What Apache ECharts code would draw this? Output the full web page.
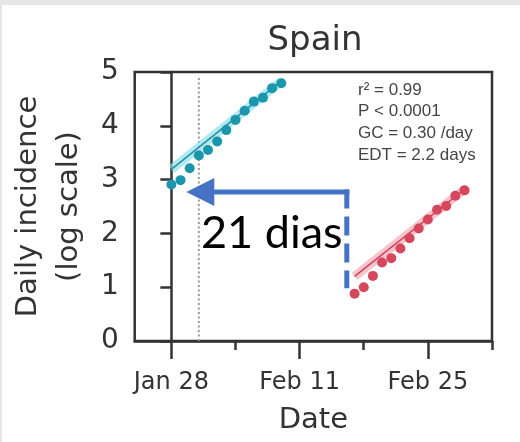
<!DOCTYPE html>
<html>
<head>
<meta charset="utf-8">
<script src="https://cdn.jsdelivr.net/npm/echarts@6/dist/echarts.min.js"></script>
<style>
html,body{margin:0;padding:0;background:#fff;}
#chart{width:520px;height:442px;}
</style>
</head>
<body>
<div id="chart"></div>
<script>
// ---- data (x = days since Jan 28) ----
const majorTickDays = [0, 14, 28];
const majorTickLabels = ['Jan 28', 'Feb 11', 'Feb 25'];
const minorTickDays = [7, 21, 35];
const yTicks = [0, 1, 2, 3, 4, 5];

const cyanDays   = [0, 1, 2, 3, 4, 5, 6, 7, 8, 9, 10, 11, 12];
const cyanValues = [2.91, 2.99, 3.21, 3.45, 3.55, 3.71, 3.92, 4.11, 4.28, 4.45, 4.52, 4.70, 4.79];
const cyanFitDays = [0, 12];
const cyanFitValues = [3.19, 4.83];

const redDays   = [20, 21, 22, 23, 24, 25, 26, 27, 28, 29, 30, 31, 32];
const redValues = [0.88, 1.00, 1.21, 1.46, 1.54, 1.72, 1.91, 2.09, 2.26, 2.44, 2.51, 2.70, 2.80];
const redFitDays = [20, 32];
const redFitValues = [1.20, 2.82];

const markerDay = [3];
const markerRange = [0, 4.9];

const arrowFrom = [19.15, 2.77];
const arrowTo   = [1.63, 2.77];
const arrowDrop = [19.15, 0.98];

const statsLines = ['r\u00b2 = 0.99', 'P < 0.0001', 'GC = 0.30 /day', 'EDT = 2.2 days'];
const shiftLabel = '21 dias';

const zip = (xs, ys) => xs.map((x, i) => [x, ys[i]]);

const chart = echarts.init(document.getElementById('chart'), null, {renderer: 'canvas'});
const FONT = '"DejaVu Sans", sans-serif';
const AX = '#333';

const option = {
  animation: false,
  backgroundColor: '#fff',
  title: {
    text: 'Spain', left: 315, top: 24, padding: 0, textAlign: 'center',
    textStyle: {fontFamily: FONT, fontSize: 34, fontWeight: 'normal', color: '#333'}
  },
  grid: {left: 133, top: 72, right: 28, bottom: 101, show: true, borderColor: AX, borderWidth: 2.5, backgroundColor: 'transparent'},
  xAxis: [{
    type: 'value', min: -4, max: 35,
    name: 'Date', nameLocation: 'middle', nameGap: 65,
    nameTextStyle: {fontFamily: FONT, fontSize: 29, color: '#333'},
    axisLine: {show: true, onZero: false, lineStyle: {color: AX, width: 2.5}},
    axisTick: {show: true, customValues: majorTickDays, length: 18, lineStyle: {color: AX, width: 2.5}},
    axisLabel: {customValues: majorTickDays, margin: 30, fontFamily: FONT, fontSize: 24, color: '#333',
      formatter: v => majorTickLabels[majorTickDays.indexOf(v)] || ''},
    splitLine: {show: false}
  }, {
    type: 'value', min: -4, max: 35, position: 'bottom', offset: 0,
    axisLine: {show: false},
    axisTick: {show: true, customValues: minorTickDays, length: 9, lineStyle: {color: AX, width: 2.5}},
    axisLabel: {show: false},
    splitLine: {show: false}
  }],
  yAxis: {
    type: 'value', min: 0, max: 5, interval: 1,
    name: 'Daily incidence\n(log scale)', nameLocation: 'middle', nameGap: 43,
    nameTextStyle: {fontFamily: FONT, fontSize: 29, lineHeight: 41, color: '#333'},
    axisLine: {show: true, lineStyle: {color: AX, width: 2.5}},
    axisTick: {show: true, length: 11, lineStyle: {color: AX, width: 2.5}},
    axisLabel: {margin: 16, fontFamily: FONT, fontSize: 28, color: '#333',
      formatter: v => String(yTicks[yTicks.indexOf(v)])},
    splitLine: {show: false}
  },
  graphic: [
    {type: 'rect', shape: {x: 0, y: 0, width: 520, height: 5}, style: {fill: '#e6e6e6'}, z: 100},
    {type: 'rect', shape: {x: 0, y: 0, width: 2, height: 442}, style: {fill: '#e6e6e6'}, z: 100},
    {type: 'text', x: 358, y: 79, z: 50,
      style: {text: statsLines.join('\n'), fontFamily: '"Liberation Sans", sans-serif', fontSize: 17, lineHeight: 21.7, fill: '#454545'}},
    {type: 'text', x: 201, y: 233, z: 50,
      style: {text: shiftLabel, fontFamily: 'Lato, sans-serif', fontSize: 45, fill: '#000', verticalAlign: 'middle'}}
  ],
  series: [
    {type: 'line', data: zip(markerDay.concat(markerDay), markerRange), symbol: 'none',
      lineStyle: {color: '#999', width: 2, type: [2, 2.5]}, z: 1},
    {type: 'line', data: zip(cyanFitDays, cyanFitValues), symbol: 'none',
      lineStyle: {color: '#8fe0ec', width: 9, opacity: 0.7}, z: 2},
    {type: 'line', data: zip(redFitDays, redFitValues), symbol: 'none',
      lineStyle: {color: '#f6a9b5', width: 9, opacity: 0.7}, z: 2},
    {type: 'line', data: zip(cyanFitDays, cyanFitValues), symbol: 'none',
      lineStyle: {color: '#2a8d9e', width: 1.5}, z: 3},
    {type: 'line', data: zip(redFitDays, redFitValues), symbol: 'none',
      lineStyle: {color: '#c8455a', width: 1.5}, z: 3},
    {type: 'scatter', data: zip(cyanDays, cyanValues), symbolSize: 10,
      itemStyle: {color: '#1a97aa', opacity: 1}, z: 4},
    {type: 'scatter', data: zip(redDays, redValues), symbolSize: 10,
      itemStyle: {color: '#d5475c', opacity: 1}, z: 4},
    {type: 'custom', z: 10, clip: false,
      data: [[arrowFrom[0], arrowFrom[1], arrowTo[0], arrowTo[1], arrowDrop[0], arrowDrop[1]]],
      renderItem: function (params, api) {
        const p0 = api.coord([api.value(0), api.value(1)]);
        const p1 = api.coord([api.value(2), api.value(3)]);
        const p2 = api.coord([api.value(4), api.value(5)]);
        const head = 28, half = 14, col = '#4472c4';
        return {type: 'group', children: [
          {type: 'line', shape: {x1: p0[0] + 2.5, y1: p0[1], x2: p1[0] + head - 1, y2: p1[1]},
            style: {stroke: col, lineWidth: 5}},
          {type: 'polygon', shape: {points: [[p1[0], p1[1]], [p1[0] + head, p1[1] - half], [p1[0] + head, p1[1] + half]]},
            style: {fill: col}},
          {type: 'line', shape: {x1: p0[0], y1: p0[1] - 2.5, x2: p2[0], y2: p2[1]},
            style: {stroke: col, lineWidth: 5, lineDash: [19, 8]}}
        ]};
      }
    }
  ]
};
chart.setOption(option);
</script>
</body>
</html>
